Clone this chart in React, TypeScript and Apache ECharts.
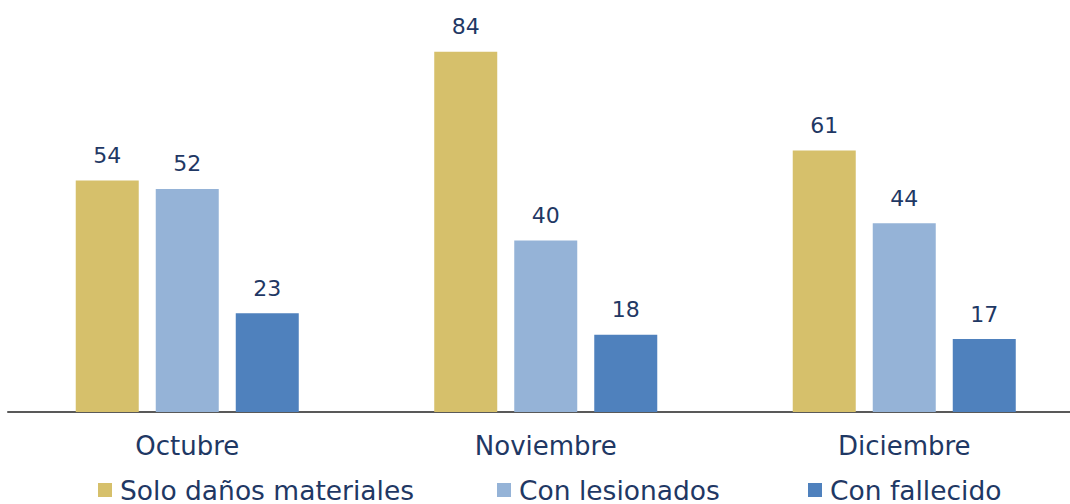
import React, { useEffect, useRef } from "react";
import * as echarts from "echarts";

const categories = ["Octubre", "Noviembre", "Diciembre"];
const seriesNames = ["Solo daños materiales", "Con lesionados", "Con fallecido"];
const soloDanos = [54, 84, 61];
const conLesionados = [52, 40, 44];
const conFallecido = [23, 18, 17];
const colors = ["#D6C06B", "#95B3D7", "#4F81BD"];
const legendLefts = [98, 497, 808];

const FONT = "DejaVu Sans";
const TEXT = "#1F3864";

export default function App() {
  const ref = useRef<HTMLDivElement>(null);
  useEffect(() => {
    document.body.style.margin = "0";
    document.body.style.overflow = "hidden";
    const chart = echarts.init(ref.current!, undefined, { renderer: "svg" });
    const values = [soloDanos, conLesionados, conFallecido];
    chart.setOption({
      animation: false,
      textStyle: { fontFamily: FONT },
      grid: { left: 8, top: 26, width: 1075.5, height: 386, containLabel: false },
      legend: seriesNames.map((name, i) => ({
        top: 476,
        left: legendLefts[i],
        padding: 0,
        itemWidth: 14,
        itemHeight: 14,
        icon: "rect",
        textStyle: { fontSize: 26.5, lineHeight: 28, color: TEXT, fontFamily: FONT, padding: [0, 0, 0, 3] },
        data: [name],
      })),
      xAxis: {
        type: "category",
        data: categories,
        axisLine: { lineStyle: { color: "#595959", width: 2 } },
        axisTick: { show: false },
        axisLabel: { fontSize: 26, lineHeight: 26, color: TEXT, margin: 21, fontFamily: FONT },
      },
      yAxis: {
        type: "value",
        min: 0,
        max: 90,
        show: false,
        splitLine: { show: false },
      },
      series: seriesNames.map((name, i) => ({
        name,
        type: "bar",
        data: values[i],
        barWidth: 63,
        barGap: "27%",
        itemStyle: { color: colors[i] },
        label: {
          show: true,
          position: "top",
          distance: 13,
          fontSize: 22,
          lineHeight: 24,
          color: TEXT,
          fontFamily: FONT,
        },
      })),
    });
    return () => chart.dispose();
  }, []);
  return (
    <div style={{ width: 1070, height: 504, overflow: "hidden" }}>
      <div ref={ref} style={{ width: 1090, height: 504 }} />
    </div>
  );
}
